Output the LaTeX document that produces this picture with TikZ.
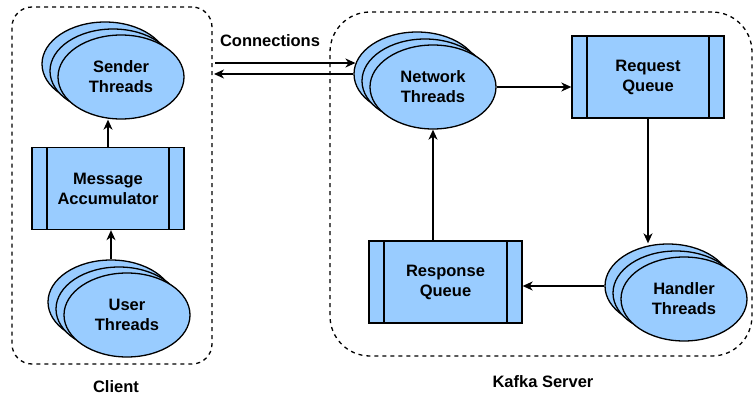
\documentclass[tikz,border=0pt]{standalone}
\usepackage{fontspec}
\setmainfont{Liberation Sans}
\usetikzlibrary{shapes.geometric,arrows.meta}

\definecolor{threadblue}{HTML}{99CCFF}

\tikzset{
  threads/.style={draw, ellipse, fill=threadblue, line width=1.3pt, minimum width=126pt, minimum height=84pt, inner sep=0pt, align=center, font=\fontsize{16.5}{20}\selectfont\bfseries},
  queue/.style={draw, rectangle, fill=threadblue, line width=1.3pt, minimum width=152pt, minimum height=82pt, inner sep=0pt, align=center, font=\fontsize{16.5}{20}\selectfont\bfseries,
    path picture={
      \draw[line width=1.3pt] ([xshift=15pt]path picture bounding box.north west) -- ([xshift=15pt]path picture bounding box.south west);
      \draw[line width=1.3pt] ([xshift=-15pt]path picture bounding box.north east) -- ([xshift=-15pt]path picture bounding box.south east);
    }},
  group/.style={draw, rectangle, dash pattern=on 4pt off 4pt, line width=1.3pt, inner sep=0pt},
  lbl/.style={font=\fontsize{16.5}{20}\selectfont\bfseries},
  flow/.style={line width=1.3pt, -{Stealth[length=10pt,width=9pt,inset=3pt]}}
}

\begin{document}
\begin{tikzpicture}[x=1pt,y=-1pt]
  \useasboundingbox (0,0) rectangle (753,398);

  \node[group, rounded corners=20pt, minimum width=200pt, minimum height=357pt] (client) at (112,185.5) {};
  \node[group, rounded corners=40pt, minimum width=422pt, minimum height=344pt] (kafka) at (541,184) {};
  \node[lbl] (clientlbl) at (116,387) {Client};
  \node[lbl] (kafkalbl) at (543,382) {Kafka Server};

  \node[threads] (sendB) at (105,64) {};
  \node[threads] (sendM) at (113,71) {};
  \node[threads] (send) at (121,77) {Sender\\Threads};

  \node[queue] (acc) at (108,188.5) {Message\\Accumulator};

  \node[threads] (userB) at (111,302) {};
  \node[threads] (userM) at (119,309) {};
  \node[threads] (user) at (127,315) {User\\Threads};

  \node[threads] (netB) at (417,74) {};
  \node[threads] (netM) at (425,81) {};
  \node[threads] (net) at (433,87) {Network\\Threads};

  \node[queue] (rq) at (648,77) {Request\\Queue};

  \node[threads] (hdlB) at (668,286) {};
  \node[threads] (hdlM) at (676,293) {};
  \node[threads] (hdl) at (684,299) {Handler\\Threads};

  \node[queue, minimum width=153pt] (resp) at (445.5,282) {Response\\Queue};

  \node[lbl] (conn) at (270,41) {Connections};
  \coordinate (cin) at (215,63);
  \coordinate (cout) at (214,74);

  \draw[flow] (userB.north) -- (userB.north |- acc.south);
  \draw[flow] (acc.north) -- (acc.north |- send.south);
  \draw[flow] (cin) -- (cin -| netB.170);
  \draw[flow] (netB.west) -- (cout);
  \draw[flow] (net.east) -- (net.east -| rq.west);
  \draw[flow] (rq.south) -- (rq.south |- hdlB.north);
  \draw[flow] (hdlB.west) -- (hdlB.west -| resp.east);
  \draw[flow] (resp.north -| net.south) -- (net.south);
\end{tikzpicture}
\end{document}
